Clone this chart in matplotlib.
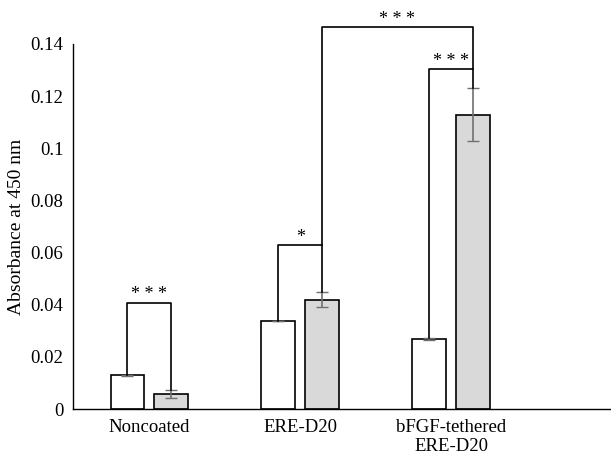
import numpy as np
import matplotlib.pyplot as plt

plt.rcParams['font.family'] = ['Liberation Serif', 'DejaVu Serif']

groups = ['Noncoated', 'ERE-D20', 'bFGF-tethered\nERE-D20']
white_vals = [0.0129, 0.0339, 0.0269]
white_err = [0.0003, 0.0, 0.0005]
gray_vals = [0.0059, 0.0420, 0.1129]
gray_err = [0.0015, 0.0030, 0.0102]

# brackets: (x1 group, bar1 side, x2 group, bar2 side, y left start, y top, y right end, label)
brackets = [
    (0, 'w', 0, 'g', 0.0132, 0.0408, 0.0074, '* * *'),
    (1, 'w', 1, 'g', 0.0339, 0.0630, 0.0450, '*'),
    (1, 'g', 2, 'g', 0.0630, 0.1465, 0.1231, '* * *'),
    (2, 'w', 2, 'g', 0.0274, 0.1304, 0.1304, '* * *'),
]

x = np.arange(len(groups))
width = 0.225
off = 0.144

fig = plt.figure(figsize=(6.11, 4.62), dpi=100)
ax = fig.add_axes([0.1195, 0.1147, 0.8805, 0.7901])

ax.bar(x - off, white_vals, width, color='white', edgecolor='black', linewidth=1.2, zorder=2)
ax.bar(x + off, gray_vals, width, color='#d9d9d9', edgecolor='black', linewidth=1.2, zorder=2)
ax.errorbar(x - off, white_vals, yerr=white_err, fmt='none', ecolor='#707070', capsize=4, elinewidth=1.2, zorder=3)
ax.errorbar(x + off, gray_vals, yerr=gray_err, fmt='none', ecolor='#707070', capsize=4, elinewidth=1.2, zorder=3)

pos = {'w': -off, 'g': off}
for g1, s1, g2, s2, y1, ytop, y2, lab in brackets:
    xa = x[g1] + pos[s1]
    xb = x[g2] + pos[s2]
    ax.plot([xa, xa, xb, xb], [y1, ytop, ytop, y2], color='black', lw=1.2, clip_on=False, zorder=4)
    ax.text((xa + xb) / 2, ytop - 0.0003, lab, ha='center', va='bottom', fontsize=13, clip_on=False)

ax.set_xlim(-0.505, 3.06)
ax.set_ylim(0, 0.14)
ax.set_yticks(np.arange(0, 0.141, 0.02))
ax.set_yticklabels(['0', '0.02', '0.04', '0.06', '0.08', '0.1', '0.12', '0.14'])
ax.set_xticks(x)
ax.set_xticklabels(groups)
ax.tick_params(axis='both', length=0, labelsize=13.5, pad=7)
ax.set_ylabel('Absorbance at 450 nm', fontsize=14, labelpad=4)
for s in ['top', 'right']:
    ax.spines[s].set_visible(False)
ax.spines['left'].set_linewidth(1.0)
ax.spines['bottom'].set_linewidth(1.0)

fig.savefig('out.png', dpi=100)
